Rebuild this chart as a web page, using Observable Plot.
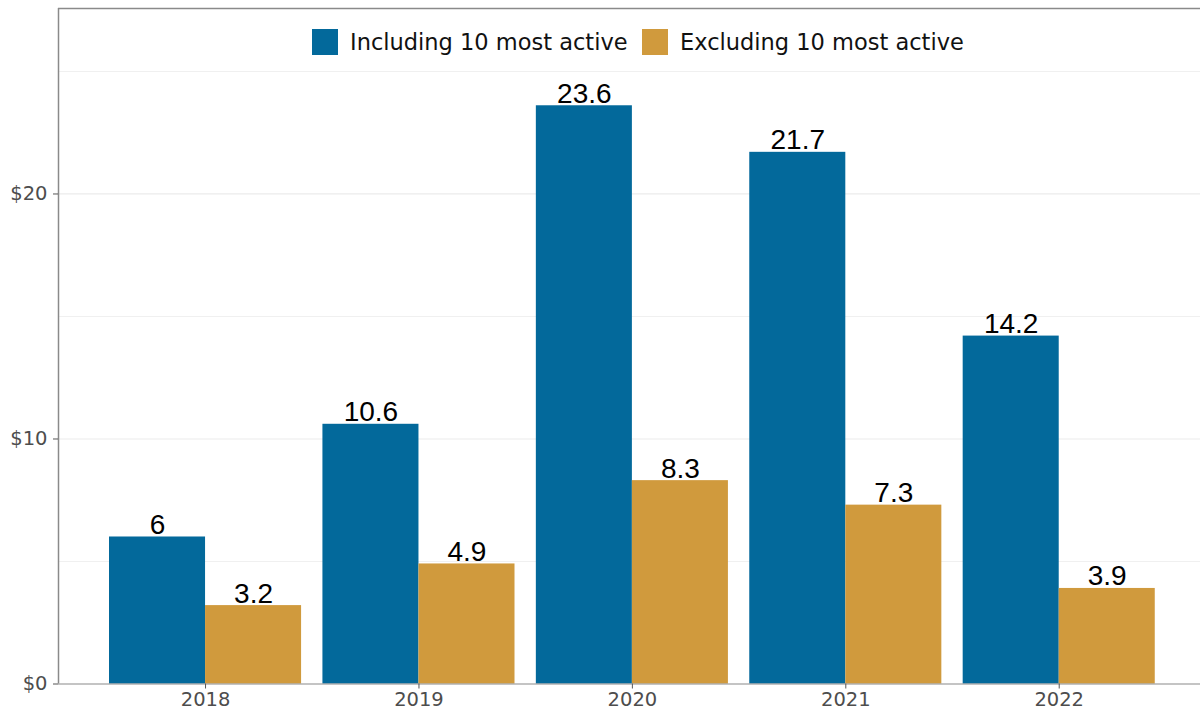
<!DOCTYPE html>
<html>
<head>
<meta charset="utf-8">
<script src="https://cdn.jsdelivr.net/npm/d3@7"></script>
<script src="https://cdn.jsdelivr.net/npm/@observablehq/plot@0.6"></script>
<style>
  html, body { margin: 0; padding: 0; background: #fff; }
  #wrap { position: relative; width: 1200px; height: 713px; }
  .leg { position: absolute; top: 29px; display: flex; align-items: center; font-family: "DejaVu Sans", sans-serif; font-size: 22.5px; color: #111; white-space: nowrap; }
  .sw { width: 26px; height: 26px; margin-right: 12px; }
</style>
</head>
<body>
<div id="wrap"></div>
<script>
const years = [2018, 2019, 2020, 2021, 2022];
const seriesNames = ["Including 10 most active", "Excluding 10 most active"];
const including = [6, 10.6, 23.6, 21.7, 14.2];
const excluding = [3.2, 4.9, 8.3, 7.3, 3.9];
const colors = ["#03699b", "#d09a3d"];
const yTicks = [0, 10, 20];
const yMinor = [5, 15, 25];
const yMajorGrid = [10, 20];

const data = [];
years.forEach((yr, i) => {
  data.push({year: yr, series: seriesNames[0], value: including[i], side: -1});
  data.push({year: yr, series: seriesNames[1], value: excluding[i], side: 1});
});

const dodge = 0.45;
const xDomain = [2017.311, 2022.662];
const yDomain = [0, 27.57];

const chart = Plot.plot({
  width: 1200,
  height: 713,
  marginLeft: 58,
  marginRight: 0,
  marginTop: 8,
  marginBottom: 29.5,
  style: {background: "#fff", overflow: "visible"},
  x: {domain: xDomain, ticks: years, tickFormat: d => String(d), tickSize: 5, tickPadding: 3, label: null},
  y: {domain: yDomain, ticks: yTicks, tickFormat: d => "$" + d, tickSize: 5, tickPadding: 6, label: null},
  color: {domain: seriesNames, range: colors},
  marks: [
    Plot.ruleY(yMinor, {stroke: "#f0f0f0", strokeWidth: 1}),
    Plot.ruleY(yMajorGrid, {stroke: "#ebebeb", strokeWidth: 1.2}),
    Plot.rectY(data, {
      x1: d => d.side < 0 ? d.year - dodge : d.year,
      x2: d => d.side < 0 ? d.year : d.year + dodge,
      y1: 0,
      y2: "value",
      fill: "series"
    }),
    Plot.text(data, {
      x: d => d.year + d.side * dodge / 2,
      y: "value",
      text: d => String(d.value),
      lineAnchor: "bottom",
      dy: -3,
      fontSize: 28,
      fontFamily: "Liberation Sans, Arial, sans-serif",
      fill: "#000"
    }),
    Plot.ruleY([yDomain[1]], {stroke: "#8a8a8a", strokeWidth: 1.5}),
    Plot.ruleX([xDomain[0]], {stroke: "#8a8a8a", strokeWidth: 1.5}),
    Plot.ruleY([0], {stroke: "#8a8a8a", strokeWidth: 1.2}),
    Plot.axisX({ticks: years, tickFormat: d => String(d), tickSize: 5, tickPadding: 3, fontSize: 19.5, fontFamily: "DejaVu Sans, sans-serif", fill: "#4d4d4d", stroke: "#555", label: null}),
    Plot.axisY({ticks: yTicks, tickFormat: d => "$" + d, tickSize: 5, tickPadding: 6, fontSize: 19.5, fontFamily: "DejaVu Sans, sans-serif", fill: "#4d4d4d", stroke: "#555", label: null})
  ]
});

const wrap = document.getElementById("wrap");
wrap.appendChild(chart);

const legLeft = [312, 642];
seriesNames.forEach((name, i) => {
  const item = document.createElement("div");
  item.className = "leg";
  item.style.left = legLeft[i] + "px";
  const sw = document.createElement("span");
  sw.className = "sw";
  sw.style.background = colors[i];
  const t = document.createElement("span");
  t.textContent = name;
  item.appendChild(sw);
  item.appendChild(t);
  wrap.appendChild(item);
});
</script>
</body>
</html>
